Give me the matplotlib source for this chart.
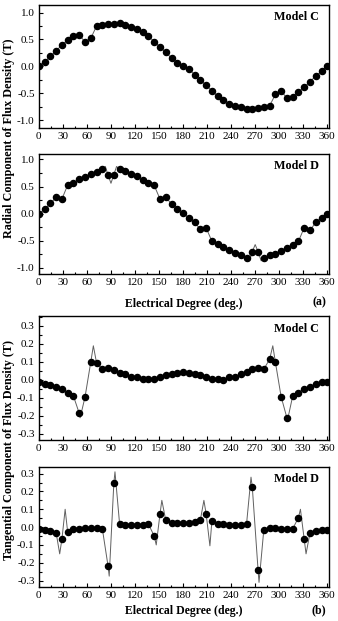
import matplotlib
matplotlib.use('Agg')
import matplotlib.pyplot as plt
import numpy as np
from matplotlib.ticker import MultipleLocator

plt.rcParams['font.family'] = ['Liberation Serif', 'DejaVu Serif']
plt.rcParams['axes.unicode_minus'] = False

# electrical degree of each dot (every 7.2 deg)
deg = [i * 7.2 for i in range(51)]

# radial component, Model C
rad_c = [0.0, 0.09, 0.185, 0.29, 0.40, 0.49, 0.57, 0.59, 0.45, 0.52,
         0.75, 0.76, 0.78, 0.79, 0.80, 0.77, 0.74, 0.70, 0.63, 0.56,
         0.46, 0.36, 0.26, 0.155, 0.07, 0.005, -0.05, -0.15, -0.25, -0.35,
         -0.45, -0.55, -0.62, -0.69, -0.74, -0.76, -0.79, -0.78, -0.77, -0.75,
         -0.73, -0.52, -0.45, -0.59, -0.56, -0.47, -0.39, -0.28, -0.18, -0.09,
         0.0]

# radial component, Model D
rad_d = [0.0, 0.08, 0.19, 0.30, 0.27, 0.53, 0.56, 0.63, 0.68, 0.73,
         0.77, 0.82, 0.71, 0.72, 0.82, 0.78, 0.74, 0.69, 0.62, 0.57,
         0.52, 0.27, 0.30, 0.18, 0.09, 0.015, -0.08, -0.16, -0.29, -0.26,
         -0.51, -0.56, -0.61, -0.67, -0.72, -0.77, -0.81, -0.70, -0.70, -0.81,
         -0.77, -0.74, -0.68, -0.63, -0.57, -0.51, -0.26, -0.31, -0.16, -0.08,
         0.0]
# extra peaks of the thin curve between the dots
rad_d_ext_deg = [83.0, 90.0, 97.0, 263.0, 270.0, 277.5]
rad_d_ext_val = [0.87, 0.56, 0.87, -0.87, -0.57, -0.87]

# tangential component, Model C
tan_c = [-0.01, -0.02, -0.03, -0.04, -0.05, -0.07, -0.09, -0.185, -0.095, 0.10,
         0.095, 0.06, 0.065, 0.057, 0.04, 0.033, 0.015, 0.017, 0.004, 0.005,
         0.005, 0.018, 0.026, 0.035, 0.037, 0.046, 0.039, 0.035, 0.028, 0.018,
         0.005, 0.007, 0.002, 0.018, 0.018, 0.033, 0.044, 0.061, 0.067, 0.06,
         0.115, 0.10, -0.093, -0.21, -0.09, -0.07, -0.05, -0.04, -0.025, -0.013,
         -0.01]
tan_c_ext_deg = [51.5, 68.0, 292.0, 310.5]
tan_c_ext_val = [-0.21, 0.19, 0.19, -0.22]

# tangential component, Model D
tan_d = [-0.01, -0.014, -0.02, -0.033, -0.066, -0.03, -0.008, -0.008, -0.006, -0.006,
         -0.003, -0.008, -0.22, 0.248, 0.016, 0.01, 0.01, 0.012, 0.014, 0.016,
         -0.05, 0.074, 0.038, 0.025, 0.021, 0.021, 0.021, 0.029, 0.04, 0.074,
         0.036, 0.02, 0.016, 0.012, 0.01, 0.012, 0.016, 0.225, -0.24, -0.014,
         -0.003, -0.006, -0.01, -0.01, -0.01, 0.053, -0.068, -0.033, -0.02, -0.018,
         -0.016]
tan_d_ext_deg = [26.0, 32.8, 87.8, 95.0, 146.5, 153.5, 206.0, 213.5, 264.8, 274.8, 326.5, 333.5]
tan_d_ext_val = [-0.15, 0.10, -0.275, 0.31, -0.10, 0.15, 0.15, -0.105, 0.28, -0.31, 0.10, -0.15]


def curve(xs, ys, ex, ey):
    x = np.concatenate([xs, ex])
    y = np.concatenate([ys, ey])
    o = np.argsort(x)
    return x[o], y[o]


def panel(ax, ys, ex, ey, ylim, major, minor, label):
    lx, ly = curve(deg, ys, ex, ey)
    ax.plot(lx, ly, color='#606060', lw=0.7, zorder=2)
    ax.plot(deg, ys, 'o', color='black', ms=4.4, zorder=3)
    ax.set_xlim(0, 362)
    ax.set_ylim(*ylim)
    ax.xaxis.set_major_locator(MultipleLocator(30))
    ax.xaxis.set_minor_locator(MultipleLocator(15))
    ax.yaxis.set_major_locator(MultipleLocator(major))
    ax.yaxis.set_minor_locator(MultipleLocator(minor))
    ax.yaxis.set_major_formatter(plt.FormatStrFormatter('%.1f'))
    ax.tick_params(which='both', direction='in', labelsize=8, width=0.8)
    ax.tick_params(which='major', length=3)
    ax.tick_params(which='minor', length=1.8)
    ax.tick_params(axis='x', pad=3)
    ax.tick_params(axis='y', pad=3)
    for s in ax.spines.values():
        s.set_linewidth(1.0)
    ax.text(0.965, 0.9, label, transform=ax.transAxes, ha='right', va='center',
            fontsize=8.7, fontweight='bold')


fig = plt.figure(figsize=(3.38, 6.21), dpi=100)
ax1 = fig.add_axes([0.115, 0.794, 0.858, 0.198])
ax2 = fig.add_axes([0.115, 0.559, 0.858, 0.193])
ax3 = fig.add_axes([0.115, 0.291, 0.858, 0.200])
ax4 = fig.add_axes([0.115, 0.055, 0.858, 0.193])

panel(ax1, rad_c, [], [], (-1.14, 1.14), 0.5, 0.25, 'Model C')
panel(ax2, rad_d, rad_d_ext_deg, rad_d_ext_val, (-1.11, 1.10), 0.5, 0.25, 'Model D')
panel(ax3, tan_c, tan_c_ext_deg, tan_c_ext_val, (-0.335, 0.355), 0.1, 0.05, 'Model C')
panel(ax4, tan_d, tan_d_ext_deg, tan_d_ext_val, (-0.335, 0.337), 0.1, 0.05, 'Model D')

fig.text(0.026, 0.778, 'Radial Component of Flux Density (T)', rotation=90,
         ha='center', va='center', fontsize=8.7, fontweight='bold')
fig.text(0.026, 0.275, 'Tangential Component of Flux Density (T)', rotation=90,
         ha='center', va='center', fontsize=8.7, fontweight='bold')
fig.text(0.544, 0.511, 'Electrical Degree (deg.)', ha='center', va='center',
         fontsize=8.5, fontweight='bold')
fig.text(0.944, 0.513, '(a)', ha='center', va='center', fontsize=8.5, fontweight='bold')
fig.text(0.544, 0.016, 'Electrical Degree (deg.)', ha='center', va='center',
         fontsize=8.5, fontweight='bold')
fig.text(0.944, 0.018, '(b)', ha='center', va='center', fontsize=8.5, fontweight='bold')

fig.savefig('out.png', dpi=100)
